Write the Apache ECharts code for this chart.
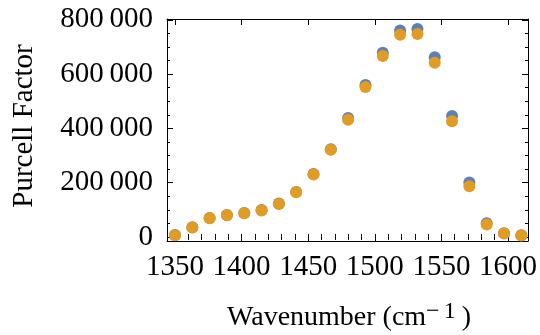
<!DOCTYPE html>
<html>
<head>
<meta charset="utf-8">
<script src="https://cdn.jsdelivr.net/npm/echarts@6/dist/echarts.min.js"></script>
<style>
  html, body { margin: 0; padding: 0; background: #fff; }
  #chart { width: 540px; height: 335px; }
</style>
</head>
<body>
<div id="chart"></div>
<script>
// wavenumbers (cm^-1)
const wavenumbers = [1350, 1363, 1376, 1389, 1402, 1415, 1428, 1441, 1454, 1467, 1480,
  1493, 1506, 1519, 1532, 1545, 1558, 1571, 1584, 1597, 1610];
const purcellBlue = [7000, 35500, 70000, 81000, 88500, 99000, 123000, 166000, 232000, 323000, 438000,
  559500, 678500, 761000, 766000, 662500, 446000, 200500, 50500, 14000, 6500];
const purcellOrange = [6300, 34700, 69000, 80000, 87000, 97400, 121700, 165000, 230000, 321000, 431500,
  552000, 666500, 745000, 747500, 641500, 426500, 187000, 45700, 12500, 5200];

const xMajorTicks = [1350, 1400, 1450, 1500, 1550, 1600];
const xMinorTicks = [1350, 1360, 1370, 1380, 1390, 1400, 1410, 1420, 1430, 1440, 1450, 1460, 1470,
  1480, 1490, 1500, 1510, 1520, 1530, 1540, 1550, 1560, 1570, 1580, 1590, 1600, 1610];
const yMajorTicks = [0, 200000, 400000, 600000, 800000];
const yMinorTicks = [0, 50000, 100000, 150000, 200000, 250000, 300000, 350000, 400000, 450000,
  500000, 550000, 600000, 650000, 700000, 750000, 800000];

const X_MIN = 1344, X_MAX = 1615;
const Y_MIN = -15000, Y_MAX = 803000;

const chart = echarts.init(document.getElementById('chart'), null, { renderer: 'canvas' });

const serif = '"Liberation Serif", "DejaVu Serif", serif';
const frame = { show: true, onZero: false, lineStyle: { color: '#000', width: 1 } };

function thinSep(v) {
  return String(v).replace(/\B(?=(\d{3})+(?!\d))/g, '\u2009');
}

// builds one axis that only carries ticks (and optionally labels / frame line)
function axis(kind, position, ticks, len, opts) {
  const o = {
    type: 'value',
    position: position,
    min: kind === 'x' ? X_MIN : Y_MIN,
    max: kind === 'x' ? X_MAX : Y_MAX,
    axisLine: opts.line ? frame : { show: false },
    axisTick: { show: true, inside: true, length: len, customValues: ticks,
      lineStyle: { color: '#000', width: 1 } },
    axisLabel: { show: false },
    splitLine: { show: false }
  };
  if (opts.labels) {
    o.axisLabel = {
      show: true,
      customValues: opts.labels,
      color: '#000',
      fontFamily: serif,
      fontSize: 29,
      margin: kind === 'x' ? 12 : 14,
      formatter: kind === 'y' ? thinSep : (v) => String(v)
    };
  }
  return o;
}

const option = {
  animation: false,
  backgroundColor: '#fff',
  grid: { left: 167, right: 11, top: 19, bottom: 94 },
  xAxis: [
    axis('x', 'bottom', xMajorTicks, 6, { line: true, labels: xMajorTicks }),
    axis('x', 'bottom', xMinorTicks, 3, {}),
    axis('x', 'top', xMajorTicks, 6, { line: true }),
    axis('x', 'top', xMinorTicks, 3, {})
  ],
  yAxis: [
    axis('y', 'left', yMajorTicks, 6, { line: true, labels: yMajorTicks }),
    axis('y', 'left', yMinorTicks, 3, {}),
    axis('y', 'right', yMajorTicks, 6, { line: true }),
    axis('y', 'right', yMinorTicks, 3, {})
  ],
  series: [
    {
      type: 'scatter',
      name: 'blue',
      xAxisIndex: 0,
      yAxisIndex: 0,
      symbolSize: 12,
      itemStyle: { color: '#5E81B5', opacity: 1 },
      data: wavenumbers.map((w, i) => [w, purcellBlue[i]])
    },
    {
      type: 'scatter',
      name: 'orange',
      xAxisIndex: 0,
      yAxisIndex: 0,
      symbolSize: 12,
      itemStyle: { color: '#E19C24', opacity: 1 },
      data: wavenumbers.map((w, i) => [w, purcellOrange[i]])
    }
  ],
  graphic: [
    {
      type: 'text',
      x: 349,
      y: 318,
      style: {
        text: 'Wavenumber (cm{sup|\u2212}{one|1})',
        font: '28px ' + serif,
        fill: '#000',
        align: 'center',
        verticalAlign: 'middle',
        rich: {
          sup: { fontSize: 24, fontFamily: serif, verticalAlign: 'top', lineHeight: 36, padding: [0, 4, 12, 0] },
          one: { fontSize: 24, fontFamily: serif, verticalAlign: 'top', lineHeight: 36, padding: [0, 6, 12, 0] }
        }
      }
    },
    {
      type: 'text',
      x: 24,
      y: 126,
      rotation: Math.PI / 2,
      style: {
        text: 'Purcell Factor',
        font: '29px ' + serif,
        fill: '#000',
        align: 'center',
        verticalAlign: 'middle'
      }
    }
  ]
};

chart.setOption(option);
</script>
</body>
</html>
